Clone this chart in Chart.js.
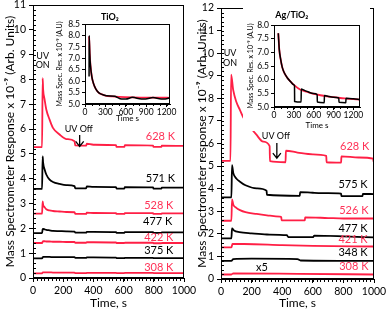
<!DOCTYPE html>
<html lang="en">
<head>
<meta charset="UTF-8">
<title>Mass spectrometer response - TiO2 and Ag/TiO2</title>
<script src="https://cdn.jsdelivr.net/npm/chart.js"></script>
<style>
  body { margin: 0; background: #fff; }
  canvas { position: absolute; }
</style>
</head>
<body>
<canvas id="mainTi" width="204" height="313" style="left:0;top:0"></canvas>
<canvas id="mainAg" width="196" height="313" style="left:192px;top:0"></canvas>
<canvas id="insetTi" width="128" height="116" style="left:52px;top:8px"></canvas>
<canvas id="insetAg" width="127" height="123" style="left:243px;top:8px"></canvas>

<script>
const RED = '#ff1f45';
const TXT_RED = '#ff3358';
const FONT = 'Lato, "Open Sans", sans-serif';

// ---- TiO2 panel: all runs share the same time stamps (s)
const tiTime = [0, 60, 64, 67, 77, 88, 110, 132, 176, 220, 275, 280, 352, 356, 400, 550, 553, 605, 608, 795, 798, 850, 853, 1000];
const ti628 = [5.27, 5.27, 8.05, 7.6, 7.19, 6.79, 6.38, 6.05, 5.78, 5.6, 5.51, 5.34, 5.33, 5.41, 5.37, 5.35, 5.28, 5.28, 5.35, 5.33, 5.28, 5.28, 5.33, 5.32];
const ti571 = [3.59, 3.59, 4.9, 4.65, 4.37, 4.17, 3.96, 3.87, 3.79, 3.74, 3.7, 3.61, 3.61, 3.69, 3.67, 3.66, 3.6, 3.6, 3.66, 3.65, 3.6, 3.6, 3.64, 3.64];
const ti528 = [2.59, 2.59, 3.09, 2.95, 2.85, 2.77, 2.72, 2.7, 2.68, 2.66, 2.65, 2.58, 2.58, 2.63, 2.62, 2.61, 2.58, 2.58, 2.61, 2.61, 2.58, 2.58, 2.6, 2.6];
const ti477 = [1.81, 1.81, 1.96, 1.98, 1.96, 1.94, 1.92, 1.9, 1.89, 1.88, 1.87, 1.83, 1.83, 1.86, 1.86, 1.85, 1.82, 1.82, 1.85, 1.85, 1.82, 1.82, 1.84, 1.84];
const ti422 = [1.41, 1.41, 1.46, 1.48, 1.48, 1.47, 1.47, 1.46, 1.46, 1.45, 1.45, 1.42, 1.42, 1.44, 1.44, 1.43, 1.41, 1.41, 1.42, 1.42, 1.4, 1.4, 1.41, 1.41];
const ti375 = [0.79, 0.79, 0.83, 0.85, 0.85, 0.85, 0.85, 0.84, 0.84, 0.84, 0.84, 0.81, 0.81, 0.83, 0.83, 0.82, 0.8, 0.8, 0.81, 0.81, 0.8, 0.8, 0.8, 0.8];
const ti308 = [0.19, 0.19, 0.22, 0.23, 0.23, 0.23, 0.23, 0.22, 0.22, 0.22, 0.22, 0.2, 0.2, 0.21, 0.21, 0.21, 0.2, 0.2, 0.21, 0.21, 0.2, 0.2, 0.2, 0.2];

// ---- Ag/TiO2 panel: each run has its own UV on/off timing
const ag628T = [0, 62, 66, 80, 100, 124, 150, 189, 230, 276, 318, 320, 422, 424, 500, 600, 688, 690, 785, 787, 900, 995, 997, 1000];
const ag628V = [5.23, 5.23, 9.05, 8.36, 7.85, 7.48, 7.1, 6.74, 6.4, 6.08, 5.88, 5.22, 5.17, 5.68, 5.6, 5.52, 5.45, 5.17, 5.15, 5.43, 5.38, 5.33, 5.2, 5.2];
const ag575T = [0, 68, 72, 80, 100, 124, 160, 233, 298, 300, 515, 517, 600, 700, 785, 787, 925, 927, 1000];
const ag575V = [3.61, 3.61, 5.04, 4.7, 4.45, 4.31, 4.15, 4.01, 3.91, 3.73, 3.68, 3.85, 3.82, 3.8, 3.78, 3.67, 3.67, 3.77, 3.76];
const ag526T = [0, 68, 72, 80, 100, 124, 160, 233, 300, 385, 394, 396, 548, 550, 700, 800, 1000];
const ag526V = [2.58, 2.58, 3.53, 3.3, 3.15, 3.05, 2.96, 2.88, 2.82, 2.76, 2.74, 2.6, 2.6, 2.73, 2.7, 2.68, 2.68];
const ag477T = [0, 68, 72, 85, 120, 200, 300, 430, 440, 600, 610, 800, 1000];
const ag477V = [1.8, 1.8, 2.24, 2.15, 2.08, 2.02, 1.97, 1.94, 1.86, 1.85, 1.92, 1.89, 1.84];
const ag421T = [0, 68, 75, 150, 400, 600, 1000];
const ag421V = [1.4, 1.4, 1.55, 1.55, 1.5, 1.47, 1.44];
const ag348T = [0, 68, 80, 200, 500, 520, 1000];
const ag348V = [0.8, 0.8, 0.88, 0.9, 0.88, 0.82, 0.8];
const ag308T = [0, 68, 80, 500, 1000];
const ag308V = [0.2, 0.2, 0.25, 0.23, 0.2];

// ---- insets: 628 K run (black) with decay fit (red)
const insTiT = [60, 61, 70, 80, 100, 130, 160, 200, 250, 300, 320, 440, 450, 540, 600, 700, 830, 890, 1000, 1120, 1180, 1250];
const insTiRun = [6.2, 8.0, 7.2, 6.7, 6.2, 5.85, 5.65, 5.5, 5.42, 5.37, 5.36, 5.34, 5.33, 5.22, 5.22, 5.29, 5.22, 5.22, 5.28, 5.22, 5.22, 5.27];
const insTiFitT = [60, 70, 80, 100, 130, 160, 200, 250, 300, 400, 500, 700, 900, 1100, 1250];
const insTiFit = [7.95, 7.2, 6.7, 6.2, 5.85, 5.65, 5.5, 5.42, 5.37, 5.33, 5.31, 5.29, 5.28, 5.28, 5.27];

const insAgT = [65, 80, 100, 125, 150, 200, 250, 300, 310, 312, 410, 412, 450, 500, 600, 653, 655, 760, 762, 800, 900, 980, 982, 1086, 1088, 1200, 1300];
const insAgRun = [7.7, 7.1, 6.75, 6.45, 6.28, 6.07, 5.93, 5.81, 5.78, 5.2, 5.18, 5.66, 5.62, 5.57, 5.49, 5.45, 5.18, 5.16, 5.42, 5.4, 5.36, 5.33, 5.17, 5.16, 5.32, 5.3, 5.27];
const insAgFitT = [65, 80, 100, 125, 150, 200, 250, 300, 400, 500, 600, 700, 800, 900, 1000, 1100, 1200, 1300];
const insAgFit = [7.7, 7.1, 6.75, 6.45, 6.28, 6.07, 5.93, 5.81, 5.63, 5.55, 5.48, 5.43, 5.39, 5.36, 5.33, 5.31, 5.29, 5.27];

const insetTicks = [0, 300, 600, 900, 1200];

function pts(ts, vs) { return ts.map((t, i) => ({ x: t, y: vs[i] })); }
function run(ts, vs, color, width) {
  return { data: pts(ts, vs), borderColor: color, borderWidth: width || 1.8, pointRadius: 0, cubicInterpolationMode: 'monotone', fill: false };
}

// frame, minor ticks, notes and arrows, all placed through the scales
const decor = {
  id: 'decor',
  beforeDraw(chart, args, o) {
    if (!o.bg) return;
    const c = chart.ctx;
    c.save(); c.fillStyle = '#fff'; c.fillRect(0, 0, chart.width, chart.height); c.restore();
  },
  afterDraw(chart, args, o) {
    const c = chart.ctx, a = chart.chartArea, x = chart.scales.x, y = chart.scales.y;
    c.save();
    c.strokeStyle = '#000'; c.lineWidth = 1;
    c.strokeRect(Math.round(a.left) + 0.5, Math.round(a.top) + 0.5, Math.round(a.width) - 1, Math.round(a.height) - 1);
    c.beginPath();
    if (o.minorX) {
      const n = Math.round((x.max - x.min) / o.minorX);
      for (let i = 1; i < n; i++) {
        const px = Math.round(x.getPixelForValue(x.min + i * o.minorX)) + 0.5;
        c.moveTo(px, a.bottom); c.lineTo(px, a.bottom + o.minorLen);
      }
    }
    if (o.minorY) {
      const n = Math.round((y.max - y.min) / o.minorY);
      for (let i = 1; i < n; i++) {
        const py = Math.round(y.getPixelForValue(y.min + i * o.minorY)) + 0.5;
        c.moveTo(a.left, py); c.lineTo(a.left + o.minorLen, py);
      }
    }
    c.stroke();
    (o.notes || []).forEach(n => {
      c.fillStyle = n.color || '#000';
      c.font = n.font || ('11px ' + FONT);
      c.textAlign = 'center'; c.textBaseline = 'middle';
      c.fillText(n.text, x.getPixelForValue(n.t), y.getPixelForValue(n.v));
    });
    (o.arrows || []).forEach(ar => {
      const px = x.getPixelForValue(ar.t), y0 = y.getPixelForValue(ar.from), y1 = y.getPixelForValue(ar.to);
      c.strokeStyle = '#000'; c.lineWidth = 1.3;
      c.beginPath();
      c.moveTo(px, y0); c.lineTo(px, y1);
      c.moveTo(px - 4, y1 - 5); c.lineTo(px, y1); c.lineTo(px + 4, y1 - 5);
      c.stroke();
    });
    c.restore();
  }
};
Chart.register(decor);

function mainChart(id, datasets, yMax, yTitle, axisW, axisH, pad, notes, arrows) {
  return new Chart(document.getElementById(id), {
    type: 'line',
    data: { datasets: datasets },
    options: {
      responsive: false, animation: false, devicePixelRatio: 1,
      layout: { padding: pad },
      plugins: {
        legend: { display: false }, tooltip: { enabled: false },
        decor: { minorX: 25, minorY: 0.2, minorLen: 3, notes: notes, arrows: arrows }
      },
      scales: {
        x: {
          type: 'linear', min: 0, max: 1000,
          ticks: { stepSize: 200, autoSkip: false, color: '#000', font: { family: FONT, size: 10.5 }, padding: 2, maxRotation: 0, callback: v => String(v) },
          grid: { drawOnChartArea: false, tickLength: 4, color: '#000' },
          border: { color: '#000' },
          title: { display: true, text: 'Time, s', color: '#000', font: { family: FONT, size: 12 }, padding: { top: 0, bottom: 3 } },
          afterFit: s => { s.height = axisH; s.paddingLeft = 0; s.paddingRight = 0; }
        },
        y: {
          min: 0, max: yMax,
          ticks: { stepSize: 1, autoSkip: false, color: '#000', font: { family: FONT, size: 10.5 }, padding: 3 },
          grid: { drawOnChartArea: false, tickLength: 4, color: '#000' },
          border: { color: '#000' },
          title: { display: true, text: yTitle, color: '#000', font: { family: FONT, size: 12 }, padding: { top: 3, bottom: 0 } },
          afterFit: s => { s.width = axisW; s.paddingTop = 0; s.paddingBottom = 0; }
        }
      }
    }
  });
}

function insetChart(id, datasets, yMin, yMax, xMax, axisW, axisH, pad, title) {
  return new Chart(document.getElementById(id), {
    type: 'line',
    data: { datasets: datasets },
    options: {
      responsive: false, animation: false, devicePixelRatio: 1,
      layout: { padding: pad },
      plugins: {
        legend: { display: false }, tooltip: { enabled: false },
        decor: { bg: true, minorX: 100, minorLen: 2, notes: [title] }
      },
      scales: {
        x: {
          type: 'linear', min: 0, max: xMax,
          afterBuildTicks: s => { s.ticks = insetTicks.map(v => ({ value: v })); },
          ticks: { autoSkip: false, color: '#000', font: { family: FONT, size: 8.5 }, padding: 0, maxRotation: 0, callback: v => String(v) },
          grid: { drawOnChartArea: false, tickLength: 3, color: '#000' },
          border: { color: '#000' },
          title: { display: true, text: 'Time s', color: '#000', font: { family: FONT, size: 8 }, padding: { top: 0, bottom: 1 } },
          afterFit: s => { s.height = axisH; s.paddingLeft = 0; s.paddingRight = 0; }
        },
        y: {
          min: yMin, max: yMax,
          ticks: { stepSize: 0.5, autoSkip: false, color: '#000', font: { family: FONT, size: 8.5 }, padding: 2, callback: v => v.toFixed(1) },
          grid: { drawOnChartArea: false, tickLength: 3, color: '#000' },
          border: { color: '#000' },
          title: { display: true, text: 'Mass Spec. Res. x 10⁻⁹ (A.U)', color: '#000', font: { family: FONT, size: 7 }, padding: { top: 4, bottom: 0 } },
          afterFit: s => { s.width = axisW; s.paddingTop = 0; s.paddingBottom = 0; }
        }
      }
    }
  });
}

const lbl = '11px ' + FONT;

mainChart('mainTi', [
  run(tiTime, ti628, RED), run(tiTime, ti571, '#000'), run(tiTime, ti528, RED),
  run(tiTime, ti477, '#000'), run(tiTime, ti422, RED), run(tiTime, ti375, '#000'), run(tiTime, ti308, RED)
], 11, 'Mass Spectrometer Response x 10⁻⁹ (Arb. Units)', 33, 35, { left: 0, right: 20, top: 5, bottom: 0 }, [
  { t: 844, v: 5.69, text: '628 K', color: TXT_RED, font: lbl },
  { t: 844, v: 4.03, text: '571 K', font: lbl },
  { t: 833, v: 2.92, text: '528 K', color: TXT_RED, font: lbl },
  { t: 826, v: 2.28, text: '477 K', font: lbl },
  { t: 833, v: 1.64, text: '422 K', color: TXT_RED, font: lbl },
  { t: 833, v: 1.11, text: '375 K', font: lbl },
  { t: 833, v: 0.44, text: '308 K', color: TXT_RED, font: lbl },
  { t: 64, v: 8.96, text: 'UV', font: '9px ' + FONT },
  { t: 64, v: 8.56, text: 'ON', font: '9px ' + FONT },
  { t: 303, v: 6.0, text: 'UV Off', font: '9px ' + FONT }
], [{ t: 309, from: 5.76, to: 5.3 }]);

mainChart('mainAg', [
  run(ag628T, ag628V, RED), run(ag575T, ag575V, '#000'), run(ag526T, ag526V, RED),
  run(ag477T, ag477V, '#000'), run(ag421T, ag421V, RED), run(ag348T, ag348V, '#000'), run(ag308T, ag308V, RED)
], 12, 'Mass Spectrometer response x 10⁻⁹ (Arb. Units)', 29, 34, { left: 0, right: 14, top: 8, bottom: 0 }, [
  { t: 874, v: 5.85, text: '628 K', color: TXT_RED, font: lbl },
  { t: 863, v: 4.19, text: '575 K', font: lbl },
  { t: 868, v: 3.05, text: '526 K', color: TXT_RED, font: lbl },
  { t: 863, v: 2.24, text: '477 K', font: lbl },
  { t: 863, v: 1.73, text: '421 K', color: TXT_RED, font: lbl },
  { t: 863, v: 1.18, text: '348 K', font: lbl },
  { t: 868, v: 0.54, text: '308 K', color: TXT_RED, font: lbl },
  { t: 267, v: 0.53, text: 'x5', font: lbl },
  { t: 59, v: 10.0, text: 'UV', font: '9px ' + FONT },
  { t: 59, v: 9.56, text: 'ON', font: '9px ' + FONT },
  { t: 359, v: 6.33, text: 'UV Off', font: '9px ' + FONT }
], [{ t: 365, from: 6.02, to: 5.35 }]);

insetChart('insetTi', [run(insTiT, insTiRun, '#000', 1.5), run(insTiFitT, insTiFit, RED, 1.8)],
  5, 8.5, 1250, 33, 20, { left: 0, right: 10, top: 16, bottom: 0 },
  { t: 366, v: 8.82, text: 'TiO₂', font: 'bold 9px ' + FONT });

insetChart('insetAg', [run(insAgT, insAgRun, '#000', 1.5), run(insAgFitT, insAgFit, RED, 1.8)],
  5, 8, 1300, 31, 24, { left: 0, right: 10, top: 17, bottom: 0 },
  { t: 268, v: 8.37, text: 'Ag/TiO₂', font: 'bold 9px ' + FONT });
</script>
</body>
</html>
